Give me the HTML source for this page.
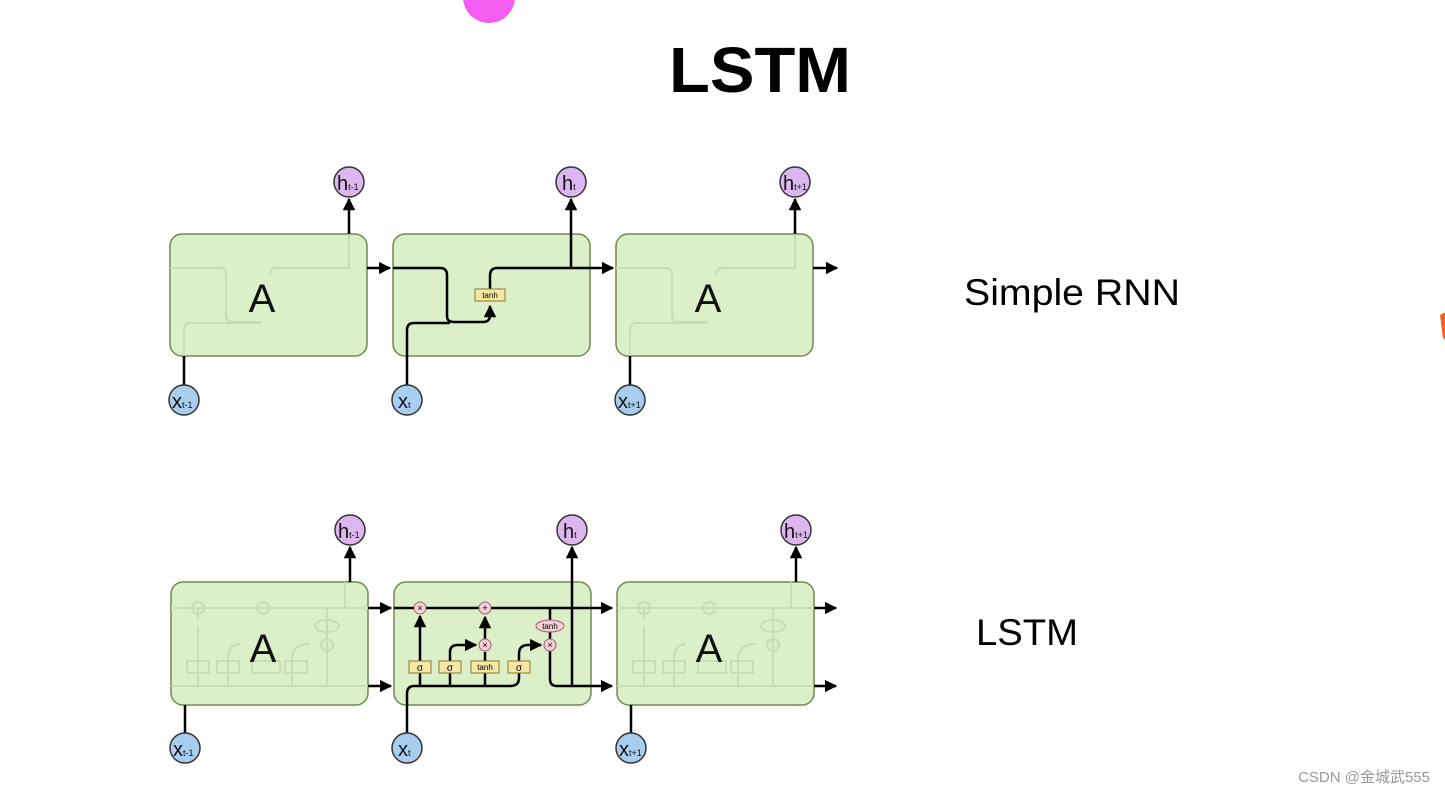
<!DOCTYPE html>
<html><head><meta charset="utf-8"><style>
html,body{margin:0;padding:0;background:#fff;}
body{width:1445px;height:795px;overflow:hidden;position:relative;font-family:"Liberation Sans",sans-serif;}
</style></head><body>
<svg width="1445" height="795" viewBox="0 0 1445 795" xmlns="http://www.w3.org/2000/svg" style="position:absolute;left:0;top:0">
<defs>
<marker id="ar" viewBox="0 0 10 10" refX="9" refY="5" markerWidth="5" markerHeight="5" orient="auto"><path d="M0,0 L10,5 L0,10 z" fill="#000"/></marker>
</defs>
<circle cx="489" cy="-3" r="26" fill="#f45df0"/>
<path d="M1440,315 L1446,312 L1446,340 L1443,338 Z" fill="#f06020"/>
<text x="760" y="92" font-size="64" font-weight="bold" text-anchor="middle" font-family="Liberation Sans" textLength="182" lengthAdjust="spacingAndGlyphs">LSTM</text>
<text x="1072" y="305" font-size="37" text-anchor="middle" textLength="216" lengthAdjust="spacingAndGlyphs">Simple RNN</text>
<text x="1027" y="645" font-size="37" text-anchor="middle" textLength="102" lengthAdjust="spacingAndGlyphs">LSTM</text>
<text x="1430" y="782" font-size="15" fill="#999" text-anchor="end" font-family="Liberation Sans, Noto Sans CJK SC, sans-serif">CSDN @金城武555</text>

<g stroke="#6e8c50" stroke-width="1.5" fill="#dbefc8">
<rect x="170" y="234" width="197" height="122" rx="12"/>
<rect x="393" y="234" width="197" height="122" rx="12"/>
<rect x="616" y="234" width="197" height="122" rx="12"/>
<rect x="171" y="582" width="197" height="123" rx="12"/>
<rect x="394" y="582" width="197" height="123" rx="12"/>
<rect x="617" y="582" width="197" height="123" rx="12"/>
</g>

<g stroke="#c8dcb6" stroke-width="2" fill="none">
<path d="M170,268 H220 Q226,268 226,274 V315 Q226,322 233,322 H262"/>
<path d="M184,356 V330 Q184,323 191,323 H260"/>
<path d="M270,275 Q270,268 277,268 H349 V234"/>
<path d="M616,268 H666 Q672,268 672,274 V315 Q672,322 679,322 H708"/>
<path d="M630,356 V330 Q630,323 637,323 H706"/>
<path d="M716,275 Q716,268 723,268 H795 V234"/>
</g>
<g stroke="#c8dcb6" stroke-width="2" fill="none">
<g id="fl">
<path d="M171,608 H368"/>
<path d="M171,686 H368"/>
<path d="M198,608 V620"/>
<path d="M198,686 V626"/>
<path d="M228,686 V660 Q228,644 240,644"/>
<path d="M292,686 V660 Q292,644 310,644"/>
<path d="M327,608 V686 H368"/>
<path d="M345,608 V582"/>
<circle cx="198" cy="608" r="6"/><circle cx="263" cy="608" r="6"/>
<circle cx="327" cy="645" r="6"/><ellipse cx="327" cy="626" rx="12" ry="6"/>
<rect x="187" y="661" width="22" height="12"/><rect x="217" y="661" width="22" height="12"/>
<rect x="252" y="661" width="28" height="12"/><rect x="285" y="661" width="22" height="12"/>
</g>
<use href="#fl" transform="translate(446,0)"/>
</g>

<g font-size="40" text-anchor="middle" fill="#111">
<text x="262" y="312">A</text><text x="708" y="312">A</text>
<text x="263" y="662">A</text><text x="709" y="662">A</text>
</g>

<g stroke="#000" stroke-width="2.5" fill="none">
<path d="M349,234 V199" marker-end="url(#ar)"/>
<path d="M367,268 H390" marker-end="url(#ar)"/>
<path d="M393,268 H440 Q447,268 447,275 V316 Q447,322 454,322 H483 Q490,322 490,315 V306" marker-end="url(#ar)"/>
<path d="M407,385 V330 Q407,323 414,323 H450"/>
<path d="M490,289 V276 Q490,268 497,268 H590 H613" marker-end="url(#ar)"/>
<path d="M571,268 V199" marker-end="url(#ar)"/>
<path d="M813,268 H837" marker-end="url(#ar)"/>
<path d="M795,234 V199" marker-end="url(#ar)"/>
<path d="M184,356 V385"/>
<path d="M630,356 V385"/>
</g>
<rect x="475" y="289" width="30" height="12" fill="#f7e7a4" stroke="#8a7a30" stroke-width="1"/>
<text x="490" y="298" font-size="8" text-anchor="middle">tanh</text>

<g stroke="#000" stroke-width="2.5" fill="none">
<path d="M350,582 V547" marker-end="url(#ar)"/>
<path d="M368,608 H391" marker-end="url(#ar)"/>
<path d="M368,686 H391" marker-end="url(#ar)"/>
<path d="M394,608 H612" marker-end="url(#ar)"/>
<path d="M407,733 V694 Q407,686 414,686 H510 Q519,686 519,678 V654 Q519,645 528,645 H541" marker-end="url(#ar)"/>
<path d="M420,686 V616" marker-end="url(#ar)"/>
<path d="M450,686 V652 Q450,645 458,645 H476" marker-end="url(#ar)"/>
<path d="M485,686 V652"/>
<path d="M485,639 V617" marker-end="url(#ar)"/>
<path d="M550,608 V620"/>
<path d="M550,632 V639"/>
<path d="M550,651 V679 Q550,686 557,686 H612" marker-end="url(#ar)"/>
<path d="M572,686 V547" marker-end="url(#ar)"/>
<path d="M814,608 H836" marker-end="url(#ar)"/>
<path d="M814,686 H836" marker-end="url(#ar)"/>
<path d="M796,582 V547" marker-end="url(#ar)"/>
<path d="M185,705 V733"/>
<path d="M631,705 V733"/>
</g>
<g stroke="#a06070" stroke-width="1" fill="#f3cfd6">
<circle cx="420" cy="608" r="6"/><circle cx="485" cy="608" r="6"/>
<circle cx="485" cy="645" r="6"/><circle cx="550" cy="645" r="6"/>
<ellipse cx="550" cy="626" rx="14" ry="6"/>
</g>
<g font-size="9" text-anchor="middle">
<text x="420" y="611">×</text><text x="485" y="611">+</text>
<text x="485" y="648">×</text><text x="550" y="648">×</text>
<text x="550" y="629" font-size="8">tanh</text>
</g>
<g fill="#f7e7a4" stroke="#8a7a30" stroke-width="1">
<rect x="409" y="661" width="22" height="12"/><rect x="439" y="661" width="22" height="12"/>
<rect x="471" y="661" width="28" height="12"/><rect x="508" y="661" width="22" height="12"/>
</g>
<g font-size="10" text-anchor="middle">
<text x="420" y="671">σ</text><text x="450" y="671">σ</text>
<text x="485" y="670" font-size="8">tanh</text><text x="519" y="671">σ</text>
</g>

<g stroke="#333" stroke-width="1.5">
<g fill="#dcb6ee">
<circle cx="349" cy="182" r="15"/><circle cx="571" cy="182" r="15"/><circle cx="795" cy="182" r="15"/>
<circle cx="350" cy="530" r="15"/><circle cx="572" cy="530" r="15"/><circle cx="796" cy="530" r="15"/>
</g>
<g fill="#a9cdee">
<circle cx="184" cy="400" r="15"/><circle cx="407" cy="400" r="15"/><circle cx="630" cy="400" r="15"/>
<circle cx="185" cy="748" r="15"/><circle cx="407" cy="748" r="15"/><circle cx="631" cy="748" r="15"/>
</g>
</g>
<g font-size="20" fill="#111">
<text x="337" y="190">h<tspan font-size="9">t-1</tspan></text>
<text x="562" y="190">h<tspan font-size="9">t</tspan></text>
<text x="783" y="190">h<tspan font-size="9">t+1</tspan></text>
<text x="338" y="538">h<tspan font-size="9">t-1</tspan></text>
<text x="563" y="538">h<tspan font-size="9">t</tspan></text>
<text x="784" y="538">h<tspan font-size="9">t+1</tspan></text>
<text x="172" y="408">x<tspan font-size="9">t-1</tspan></text>
<text x="398" y="408">x<tspan font-size="9">t</tspan></text>
<text x="618" y="408">x<tspan font-size="9">t+1</tspan></text>
<text x="173" y="756">x<tspan font-size="9">t-1</tspan></text>
<text x="398" y="756">x<tspan font-size="9">t</tspan></text>
<text x="619" y="756">x<tspan font-size="9">t+1</tspan></text>
</g>
</svg>
</body></html>
